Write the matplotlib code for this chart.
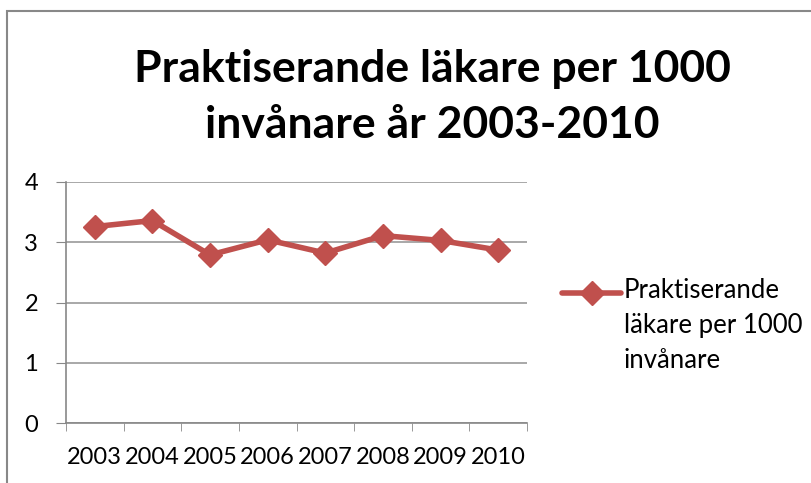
import matplotlib.pyplot as plt
import numpy as np
from matplotlib.patches import Rectangle
from matplotlib.legend_handler import HandlerLine2D

years = ["2003", "2004", "2005", "2006", "2007", "2008", "2009", "2010"]
values = [3.26, 3.36, 2.79, 3.04, 2.82, 3.11, 3.03, 2.87]
series_name = "Praktiserande\nläkare per 1000\ninvånare"
title = "Praktiserande läkare per 1000\ninvånare år 2003-2010"

plt.rcParams['font.family'] = ['Lato', 'DejaVu Sans']


class TopLineHandler(HandlerLine2D):
    # put the legend line next to the first text line, like Excel does
    def __init__(self, shift, **kw):
        super().__init__(**kw)
        self.shift = shift

    def create_artists(self, *args, **kwargs):
        artists = super().create_artists(*args, **kwargs)
        for a in artists:
            a.set_ydata(np.asarray(a.get_ydata()) + self.shift)
        return artists


fig = plt.figure(figsize=(8.11, 4.83), dpi=100)
ax = fig.add_axes([66 / 811, 1 - 423 / 483, (527 - 66) / 811, (423 - 182) / 483])

# chart area frame (cropped on right and bottom)
fig.patches.append(Rectangle((7 / 811, -0.1), 1.2, 1 - 11 / 483 + 0.1,
                             transform=fig.transFigure, fill=False,
                             edgecolor="#888888", linewidth=1.5))

x = np.arange(len(years))
line_color = "#C0504D"
line, = ax.plot(x, values, color=line_color, linewidth=4, marker="D", markersize=12,
                label=series_name, solid_capstyle="round")

ax.set_xlim(-0.5, len(years) - 0.5)
ax.set_ylim(0, 4)
ax.set_yticks([0, 1, 2, 3, 4])
ax.set_xticks(x)
ax.set_xticklabels(years)
ax.set_xticks(np.arange(-0.5, len(years)), minor=True)
ax.tick_params(axis="x", which="major", length=0, pad=17, labelsize=17)
ax.tick_params(axis="x", which="minor", length=6, color="#888888")
ax.tick_params(axis="y", length=7, color="#888888", pad=13, labelsize=17)
ax.grid(axis="y", color="#999999", linewidth=1.2)
ax.set_axisbelow(True)
for s in ["top", "right"]:
    ax.spines[s].set_visible(False)
for s in ["left", "bottom"]:
    ax.spines[s].set_color("#888888")
    ax.spines[s].set_linewidth(1.2)

fig.text(432 / 811, 1 - 97 / 483, title, ha="center", va="center",
         fontsize=32, fontweight="bold", linespacing=1.5)

leg_fs = 18.5
leg = ax.legend(loc="center left", bbox_to_anchor=(539 / 811, 1 - 325 / 483),
                bbox_transform=fig.transFigure, frameon=False, fontsize=leg_fs,
                handlelength=2.3, handletextpad=0.1,
                handler_map={line: TopLineHandler(shift=leg_fs * 1.3)})
for t in leg.get_texts():
    t.set_linespacing(1.5)

fig.savefig("out.png", dpi=100)
